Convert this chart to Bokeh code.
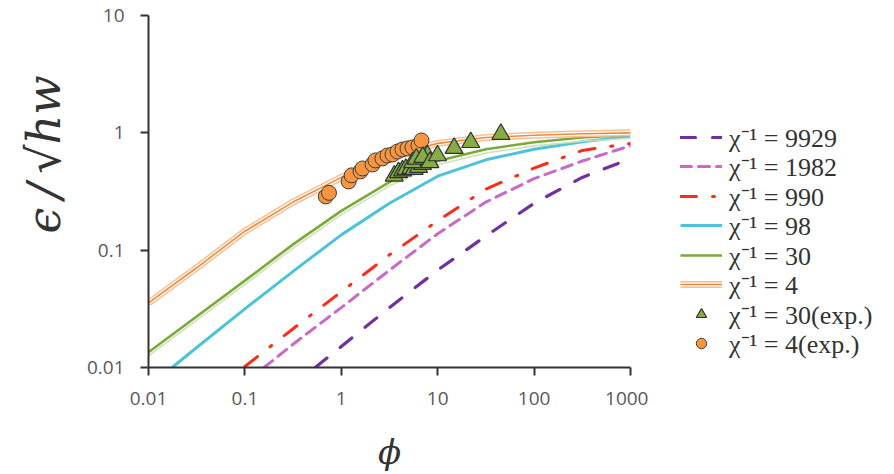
from bokeh.plotting import figure
from bokeh.layouts import row
from bokeh.models import Range1d, FixedTicker, Legend, LegendItem, Title
from bokeh.embed import file_html
from bokeh.resources import INLINE

# ---------------- data ----------------
x_ticks = [0.01, 0.1, 1, 10, 100, 1000]
x_tick_labels = ["0.01", "0.1", "1", "10", "100", "1000"]
y_ticks = [0.01, 0.1, 1, 10]
y_tick_labels = ["0.01", "0.1", "1", "10"]

series_labels = ["χ⁻¹ = 9929", "χ⁻¹ = 1982", "χ⁻¹ = 990", "χ⁻¹ = 98",
                 "χ⁻¹ = 30", "χ⁻¹ = 4", "χ⁻¹ = 30(exp.)", "χ⁻¹ = 4(exp.)"]

phi_9929 = [0.537, 1, 3.16, 10, 31.6, 100, 316, 1000]
eps_9929 = [0.01, 0.0151, 0.0324, 0.0676, 0.132, 0.251, 0.417, 0.603]

phi_1982 = [0.158, 0.316, 1, 3.16, 10, 31.6, 100, 316, 1000]
eps_1982 = [0.01, 0.0158, 0.0324, 0.0676, 0.138, 0.257, 0.407, 0.575, 0.776]

phi_990 = [0.1, 0.316, 1, 3.16, 10, 31.6, 100, 316, 1000]
eps_990 = [0.0102, 0.0214, 0.0442, 0.0912, 0.178, 0.331, 0.501, 0.708, 0.813]

phi_98 = [0.0176, 0.0316, 0.1, 0.316, 1, 3.16, 10, 31.6, 100, 316, 1000]
eps_98 = [0.01, 0.0148, 0.0316, 0.066, 0.135, 0.251, 0.427, 0.589, 0.724, 0.841, 0.933]

phi_30 = [0.01, 0.0316, 0.1, 0.316, 1, 3.16, 10, 31.6, 100, 316, 1000]
eps_30 = [0.0135, 0.0272, 0.055, 0.112, 0.216, 0.380, 0.575, 0.724, 0.832, 0.912, 0.966]

phi_4 = [0.01, 0.0316, 0.1, 0.316, 1, 3.16, 10, 31.6, 100, 316, 1000]
eps_4 = [0.0355, 0.0708, 0.145, 0.257, 0.417, 0.631, 0.813, 0.912, 0.955, 0.982, 1.0]

exp30_phi = [3.54, 3.92, 4.31, 4.67, 5.26, 5.70, 6.32, 6.95, 7.53, 7.83, 5.5, 6.0, 7.0, 8.3, 9.95, 14.8, 22.0, 45.2]
exp30_eps = [0.43, 0.46, 0.475, 0.49, 0.50, 0.49, 0.51, 0.54, 0.60, 0.64, 0.56, 0.60, 0.62, 0.56, 0.64, 0.74, 0.83, 0.975]

exp4_phi = [0.69, 0.745, 1.19, 1.28, 1.58, 1.66, 2.11, 2.26, 2.67, 3.01, 3.40, 3.83, 4.31, 4.86, 5.48, 6.32, 6.79]
exp4_eps = [0.287, 0.308, 0.385, 0.434, 0.469, 0.497, 0.538, 0.582, 0.605, 0.641, 0.654, 0.693, 0.721, 0.736, 0.751, 0.782, 0.861]

# ---------------- styles ----------------
def draw_all(fig, d):
    """Draw every series on fig; d maps name -> (xs, ys)."""
    r = {}
    r["9929"] = [fig.line(*d["9929"], line_color="#7030a0", line_width=3.2, line_dash="15 17", line_cap="round")]
    r["1982"] = [fig.line(*d["1982"], line_color="#c86ac8", line_width=3.0, line_dash="11 7", line_cap="round")]
    r["990"] = [fig.line(*d["990"], line_color="#ff2a1a", line_width=3.0, line_dash="16 16 2 16", line_cap="round")]
    r["98"] = [fig.line(*d["98"], line_color="#4cc3d8", line_width=3.0)]
    r["30"] = [fig.line(*d["30s"], line_color="#cfe0b8", line_width=1.6),
               fig.line(*d["30"], line_color="#7aab3a", line_width=2.6)]
    r["4"] = [fig.line(*d["4"], line_color="#f8bf95", line_width=7),
              fig.line(*d["4"], line_color="#ffffff", line_width=4),
              fig.line(*d["4"], line_color="#f08a3a", line_width=1.6)]
    r["e4"] = [fig.scatter(*d["e4"], marker="circle", size=15, fill_color="#f7963f",
                           line_color="#3c3c3c", line_width=1)]
    r["e30"] = [fig.scatter(*d["e30"], marker="triangle", size=18, fill_color="#86ad45",
                            line_color="#303030", line_width=1.2)]
    return r

# ---------------- main figure ----------------
p1 = figure(width=648, height=474, x_axis_type="log", y_axis_type="log",
            x_range=Range1d(0.01, 1000), y_range=Range1d(0.01, 10),
            output_backend="svg", toolbar_location=None,
            min_border_left=148, min_border_right=18,
            min_border_top=15, min_border_bottom=107)
p1.outline_line_color = None
p1.xgrid.visible = False
p1.ygrid.visible = False

for ax, ticks, labels in ((p1.xaxis[0], x_ticks, x_tick_labels), (p1.yaxis[0], y_ticks, y_tick_labels)):
    ax.ticker = FixedTicker(ticks=ticks, minor_ticks=[])
    ax.major_label_overrides = {t: l for t, l in zip(ticks, labels)}
    ax.axis_line_color = "#333333"
    ax.axis_line_width = 2
    ax.major_tick_line_color = "#333333"
    ax.major_tick_line_width = 2
    ax.major_tick_out = 8
    ax.major_tick_in = 0
    ax.minor_tick_out = 0
    ax.minor_tick_in = 0
    ax.major_label_text_font = "Open Sans"
    ax.major_label_text_font_size = "19px"
    ax.major_label_text_color = "#595959"
p1.yaxis.major_label_standoff = 16
p1.xaxis.major_label_standoff = 16

p1.xaxis.axis_label = "ϕ"
p1.xaxis.axis_label_text_font = "DejaVu Serif"
p1.xaxis.axis_label_text_font_style = "italic"
p1.xaxis.axis_label_text_font_size = "34px"
p1.xaxis.axis_label_text_color = "#333333"
p1.xaxis.axis_label_standoff = 24

p1.add_layout(Title(text="ϵ\u2009/\u2009√hw", align="right", offset=60, standoff=26,
                    text_font="DejaVu Serif", text_font_style="italic",
                    text_font_size="46px", text_color="#333333"), "left")

eps_30_shadow = [e * 0.93 for e in eps_30]
main_data = {"9929": (phi_9929, eps_9929), "1982": (phi_1982, eps_1982),
             "990": (phi_990, eps_990), "98": (phi_98, eps_98),
             "30": (phi_30, eps_30), "30s": (phi_30, eps_30_shadow),
             "4": (phi_4, eps_4), "e4": (exp4_phi, exp4_eps), "e30": (exp30_phi, exp30_eps)}
draw_all(p1, main_data)

# ---------------- legend panel ----------------
# proxies reuse the same series, but the ranges keep them out of view
p2 = figure(width=246, height=474, x_range=Range1d(-2, -1), y_range=Range1d(-2, -1),
            output_backend="svg", toolbar_location=None,
            x_axis_location=None, y_axis_location=None,
            min_border_left=0, min_border_top=15, min_border_right=0, min_border_bottom=107)
p2.outline_line_color = None
p2.grid.visible = False
proxy = draw_all(p2, main_data)
order = ["9929", "1982", "990", "98", "30", "4", "e30", "e4"]

# one single-entry legend per row so the row pitch matches the reference
row_pitch = 29.5
first_row_offset = 212.5
for k, (lab, key) in enumerate(zip(series_labels, order)):
    lg = Legend(items=[LegendItem(label=lab, renderers=proxy[key])],
                location=(32, first_row_offset - row_pitch * k), orientation="vertical",
                glyph_width=42, glyph_height=26, label_height=26, spacing=0,
                label_standoff=7, padding=0, margin=0,
                border_line_color=None, background_fill_alpha=0,
                label_text_font="Liberation Serif", label_text_font_size="26px",
                label_text_color="#333333")
    p2.add_layout(lg, "center")

layout = row(p1, p2)
open("out.html", "w").write(file_html(layout, INLINE))
